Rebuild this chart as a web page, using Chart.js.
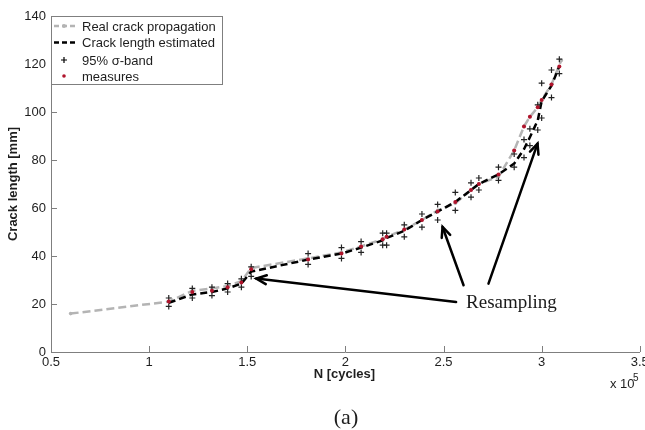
<!DOCTYPE html>
<html>
<head>
<meta charset="utf-8">
<script src="https://cdn.jsdelivr.net/npm/chart.js@4.4.1/dist/chart.umd.min.js"></script>
<style>
  html, body { margin: 0; padding: 0; background: #fff; }
  #chartFrame { width: 645px; height: 430px; }
</style>
</head>
<body>
<div id="chartFrame"><canvas id="myChart" width="645" height="430"></canvas></div>
<script>
// cycles are in units of 1e5
var realCycles = [0.60, 1.10, 1.22, 1.32, 1.40, 1.47, 1.52, 1.81, 1.98, 2.08, 2.19, 2.21, 2.30, 2.39, 2.47, 2.56, 2.64, 2.68, 2.78, 2.86, 2.91, 2.94, 2.98, 3.00, 3.05, 3.10];
var realLength = [16, 21, 25.5, 26.5, 27.5, 29.5, 35, 39, 41.5, 44, 47, 48, 51, 55, 59, 62, 67.5, 70, 73, 84, 94, 98, 102, 105, 111.5, 121.5];

var estCycles = [1.10, 1.22, 1.32, 1.40, 1.47, 1.52, 1.81, 1.98, 2.08, 2.19, 2.21, 2.30, 2.39, 2.47, 2.56, 2.64, 2.68, 2.78, 2.86, 2.91, 2.94, 2.98, 3.00, 3.05, 3.09];
var estLength = [20.5, 24, 25, 26.5, 28.5, 33.5, 38.5, 41, 43.5, 46.5, 47.5, 50.5, 55, 58.5, 62.5, 67.5, 70, 74, 78.5, 84.5, 89.5, 96.5, 104.5, 111, 119];

var bandUpper = [22.5, 26.5, 27, 28.5, 30.5, 35.5, 41, 43.5, 46, 49.5, 49.5, 53, 57.5, 61.5, 66.5, 70.5, 72.5, 77, 82.5, 88.5, 93, 103, 112, 117.5, 122];
var bandLower = [19, 22.5, 23.5, 25, 27, 31.5, 36.5, 39, 41.5, 44.5, 44.5, 48, 52, 55, 59, 64.5, 67.5, 71.5, 77, 81, 86, 92.5, 97.5, 106, 116];

var measCycles = [1.10, 1.22, 1.32, 1.40, 1.47, 1.52, 1.81, 1.98, 2.08, 2.19, 2.21, 2.30, 2.39, 2.47, 2.56, 2.64, 2.68, 2.78, 2.86, 2.91, 2.94, 2.98, 3.00, 3.05, 3.09];
var measLength = [21, 25, 25.5, 27, 29, 34.5, 38.5, 41, 44, 47, 48, 51, 55, 58.5, 62.5, 67.5, 70, 74, 84, 94, 98, 102, 105, 111.5, 119];

var xTicks = ['0.5', '1', '1.5', '2', '2.5', '3', '3.5'];
var yTicks = ['0', '20', '40', '60', '80', '100', '120', '140'];

var seriesNames = ['Real crack propagation', 'Crack length estimated', '95% σ-band', 'measures'];

function pts(xs, ys) {
    return xs.map((x, i) => ({ x: x, y: ys[i] }));
}

var AXIS = '#7f7f7f';
var TEXT = '#1e1e1e';

// arrows of the "Resampling" note, in data coordinates (tail -> head)
var arrows = [
    { from: [2.564, 20.8], to: [1.546, 30.6] },
    { from: [2.602, 27.8], to: [2.495, 52.1] },
    { from: [2.729, 28.5], to: [2.979, 86.8] }
];
var noteAt = [2.615, 18.2];

var overlay = {
    id: 'overlay',
    afterDraw: function (chart) {
        var ctx = chart.ctx, xs = chart.scales.x, ys = chart.scales.y, area = chart.chartArea;
        ctx.save();

        // inward tick marks
        ctx.strokeStyle = AXIS;
        ctx.lineWidth = 1;
        xs.ticks.forEach(t => {
            var px = Math.round(xs.getPixelForValue(t.value)) + 0.5;
            ctx.beginPath(); ctx.moveTo(px, area.bottom); ctx.lineTo(px, area.bottom - 6); ctx.stroke();
        });
        ys.ticks.forEach(t => {
            var py = Math.round(ys.getPixelForValue(t.value)) + 0.5;
            ctx.beginPath(); ctx.moveTo(area.left, py); ctx.lineTo(area.left + 6, py); ctx.stroke();
        });

        // axis titles
        ctx.fillStyle = TEXT;
        ctx.font = 'bold 13px "Liberation Sans", Arial, sans-serif';
        ctx.textAlign = 'center';
        ctx.textBaseline = 'middle';
        ctx.fillText('N [cycles]', (area.left + area.right) / 2 - 1, 374);
        ctx.save();
        ctx.translate(13, (area.top + area.bottom) / 2);
        ctx.rotate(-Math.PI / 2);
        ctx.fillText('Crack length [mm]', 0, 0);
        ctx.restore();

        // exponent note
        ctx.font = '13px "Liberation Sans", Arial, sans-serif';
        ctx.textAlign = 'left';
        ctx.textBaseline = 'alphabetic';
        ctx.fillText('x 10', 610, 388);
        ctx.font = '10px "Liberation Sans", Arial, sans-serif';
        ctx.fillText('5', 633, 381);

        // caption
        ctx.font = '22px "Liberation Serif", "Times New Roman", serif';
        ctx.textAlign = 'center';
        ctx.fillText('(a)', 346, 424);

        // legend box
        var lx = area.left, ly = area.top, lw = 171, lh = 68;
        ctx.fillStyle = '#fff';
        ctx.fillRect(lx, ly, lw, lh);
        ctx.strokeStyle = AXIS;
        ctx.lineWidth = 1;
        ctx.strokeRect(lx + 0.5, ly + 0.5, lw, lh);
        var rows = [ly + 10, ly + 26.5, ly + 44, ly + 60];
        var ds = chart.data.datasets;
        // real
        ctx.setLineDash([5, 3]);
        ctx.lineWidth = 2.5;
        ctx.strokeStyle = ds[0].borderColor;
        ctx.beginPath(); ctx.moveTo(lx + 3, rows[0]); ctx.lineTo(lx + 25, rows[0]); ctx.stroke();
        ctx.setLineDash([]);
        ctx.fillStyle = ds[0].borderColor;
        ctx.beginPath(); ctx.arc(lx + 13, rows[0], 2, 0, Math.PI * 2); ctx.fill();
        // estimated
        ctx.setLineDash([5, 3]);
        ctx.strokeStyle = ds[1].borderColor;
        ctx.beginPath(); ctx.moveTo(lx + 3, rows[1]); ctx.lineTo(lx + 25, rows[1]); ctx.stroke();
        ctx.setLineDash([]);
        // band cross
        ctx.lineWidth = 1.2;
        ctx.strokeStyle = '#000';
        ctx.beginPath();
        ctx.moveTo(lx + 10, rows[2]); ctx.lineTo(lx + 16, rows[2]);
        ctx.moveTo(lx + 13, rows[2] - 3); ctx.lineTo(lx + 13, rows[2] + 3);
        ctx.stroke();
        // measures
        ctx.fillStyle = ds[4].backgroundColor;
        ctx.beginPath(); ctx.arc(lx + 13, rows[3], 1.8, 0, Math.PI * 2); ctx.fill();

        ctx.fillStyle = TEXT;
        ctx.font = '13px "Liberation Sans", Arial, sans-serif';
        ctx.textAlign = 'left';
        ctx.textBaseline = 'middle';
        seriesNames.forEach((n, i) => ctx.fillText(n, lx + 31, rows[i] + 1));

        // arrows
        ctx.strokeStyle = '#000';
        ctx.fillStyle = '#000';
        ctx.lineWidth = 2.5;
        ctx.lineCap = 'round';
        arrows.forEach(a => {
            var x0 = xs.getPixelForValue(a.from[0]), y0 = ys.getPixelForValue(a.from[1]);
            var x1 = xs.getPixelForValue(a.to[0]), y1 = ys.getPixelForValue(a.to[1]);
            var ang = Math.atan2(y1 - y0, x1 - x0), hl = 11, ha = 0.42;
            ctx.beginPath(); ctx.moveTo(x0, y0); ctx.lineTo(x1, y1); ctx.stroke();
            ctx.beginPath();
            ctx.moveTo(x1 - hl * Math.cos(ang - ha), y1 - hl * Math.sin(ang - ha));
            ctx.lineTo(x1, y1);
            ctx.lineTo(x1 - hl * Math.cos(ang + ha), y1 - hl * Math.sin(ang + ha));
            ctx.stroke();
        });
        ctx.font = '19px "Liberation Serif", "Times New Roman", serif';
        ctx.fillStyle = '#1a1a1a';
        ctx.textAlign = 'left';
        ctx.textBaseline = 'alphabetic';
        ctx.fillText('Resampling', xs.getPixelForValue(noteAt[0]), ys.getPixelForValue(noteAt[1]));

        ctx.restore();
    }
};

var config = {
    type: 'scatter',
    data: {
        datasets: [
            {
                label: seriesNames[0],
                data: pts(realCycles, realLength),
                showLine: true,
                borderColor: '#b4b4b4',
                backgroundColor: '#b4b4b4',
                borderWidth: 2.5,
                borderDash: [8, 4],
                pointRadius: 1.8,
                pointBorderWidth: 0,
                order: 4
            },
            {
                label: seriesNames[1],
                data: pts(estCycles, estLength),
                showLine: true,
                borderColor: '#000',
                backgroundColor: '#000',
                borderWidth: 2.5,
                borderDash: [7, 4],
                pointRadius: 0,
                order: 3
            },
            {
                label: seriesNames[2],
                data: pts(estCycles, bandUpper),
                showLine: false,
                pointStyle: 'cross',
                pointRadius: 3,
                borderColor: '#222',
                borderWidth: 1.2,
                order: 2
            },
            {
                label: seriesNames[2],
                data: pts(estCycles, bandLower),
                showLine: false,
                pointStyle: 'cross',
                pointRadius: 3,
                borderColor: '#222',
                borderWidth: 1.2,
                order: 2
            },
            {
                label: seriesNames[3],
                data: pts(measCycles, measLength),
                showLine: false,
                pointRadius: 2,
                pointBorderWidth: 0,
                backgroundColor: '#b0142c',
                borderColor: '#b0142c',
                order: 1
            }
        ]
    },
    options: {
        responsive: false,
        animation: false,
        events: [],
        layout: { padding: { top: 16, right: 4, bottom: 0, left: 0 } },
        plugins: { legend: { display: false }, tooltip: { enabled: false } },
        scales: {
            x: {
                type: 'linear',
                min: 0.5,
                max: 3.5,
                grid: { display: false, drawTicks: false },
                border: { display: true, color: AXIS, width: 1 },
                ticks: {
                    stepSize: 0.5,
                    padding: 3,
                    color: TEXT,
                    font: { family: '"Liberation Sans", Arial, sans-serif', size: 13 },
                    maxRotation: 0,
                    callback: (v, i) => xTicks[i]
                },
                afterFit: s => { s.height = 78; s.paddingLeft = 0; s.paddingRight = 0; }
            },
            y: {
                type: 'linear',
                min: 0,
                max: 140,
                grid: { display: false, drawTicks: false },
                border: { display: true, color: AXIS, width: 1 },
                ticks: {
                    stepSize: 20,
                    padding: 5,
                    color: TEXT,
                    font: { family: '"Liberation Sans", Arial, sans-serif', size: 13 },
                    callback: (v, i) => yTicks[i]
                },
                afterFit: s => { s.width = 51; s.paddingTop = 0; s.paddingBottom = 0; }
            }
        }
    },
    plugins: [overlay]
};

var ctx = document.getElementById('myChart').getContext('2d');
var myChart = new Chart(ctx, config);
</script>
</body>
</html>
